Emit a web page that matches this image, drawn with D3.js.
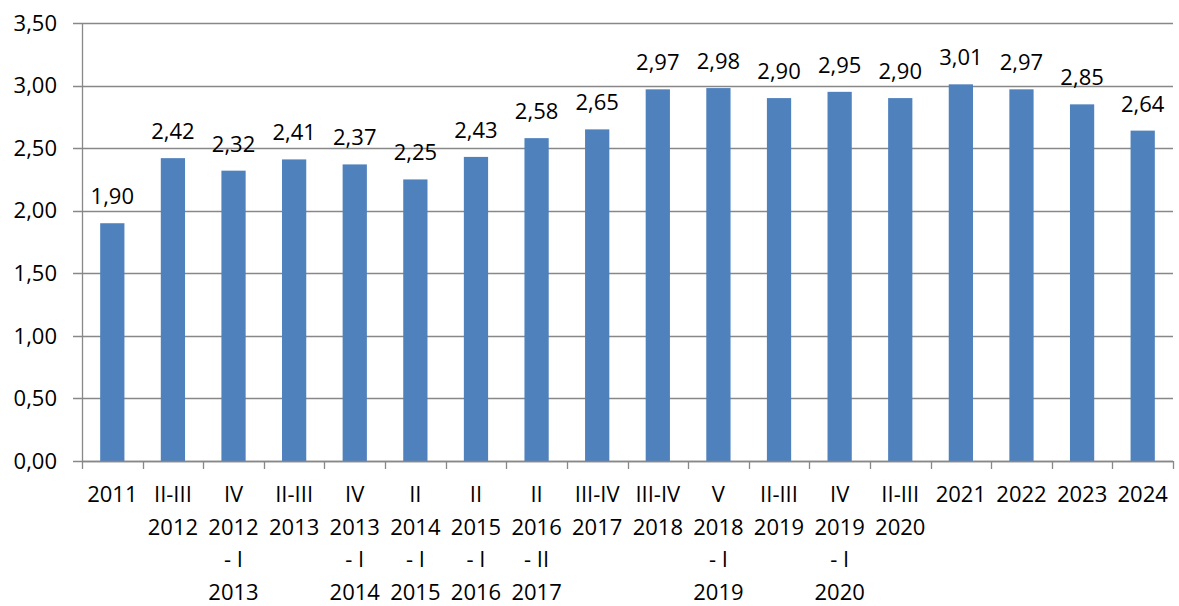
<!DOCTYPE html>
<html>
  <head>
    <meta charset="UTF-8" />
    <title>Chart</title>
    <script src="https://d3js.org/d3.v7.min.js"></script>
    <style>
      body { margin: 0; background: #fff; }
      svg text { font-family: "Open Sans", sans-serif; fill: #000; }
    </style>
  </head>
  <body>
    <svg width="1179" height="606"></svg>
    <script>
      // categories, lines separated by "|"
      var categories = [
        "2011",
        "II-III|2012",
        "IV|2012|- I|2013",
        "II-III|2013",
        "IV|2013|- I|2014",
        "II|2014|- I|2015",
        "II|2015|- I|2016",
        "II|2016|- II|2017",
        "III-IV|2017",
        "III-IV|2018",
        "V|2018|- I|2019",
        "II-III|2019",
        "IV|2019|- I|2020",
        "II-III|2020",
        "2021",
        "2022",
        "2023",
        "2024"
      ];
      var values = [1.90, 2.42, 2.32, 2.41, 2.37, 2.25, 2.43, 2.58, 2.65, 2.97, 2.98, 2.90, 2.95, 2.90, 3.01, 2.97, 2.85, 2.64];
      var yTicks = [0, 0.5, 1, 1.5, 2, 2.5, 3, 3.5];

      var svg = d3.select("svg");
      var fmt = function (v) { return d3.format(".2f")(v).replace(".", ","); };

      var x = d3.scaleBand().domain(d3.range(categories.length)).range([82, 1173]).paddingInner(0.6).paddingOuter(0.3);
      var band = d3.scaleBand().domain(d3.range(categories.length)).range([82, 1173]);
      var y = d3.scaleLinear().domain([0, 3.5]).range([461, 23]);

      // gridlines
      svg.append("g")
        .selectAll("line")
        .data(yTicks)
        .enter()
        .append("line")
        .attr("x1", 73)
        .attr("x2", 1173)
        .attr("y1", function (d) { return Math.round(y(d)) + 0.5; })
        .attr("y2", function (d) { return Math.round(y(d)) + 0.5; })
        .attr("stroke", "#888")
        .attr("stroke-width", 1.3);

      // y labels
      svg.append("g")
        .selectAll("text")
        .data(yTicks)
        .enter()
        .append("text")
        .attr("x", 57)
        .attr("y", function (d) { return y(d); })
        .attr("dy", "0.35em")
        .attr("text-anchor", "end")
        .attr("font-size", 22)
        .text(fmt);

      // bars
      svg.append("g")
        .selectAll("rect")
        .data(values)
        .enter()
        .append("rect")
        .attr("x", function (d, i) { return x(i); })
        .attr("width", x.bandwidth())
        .attr("y", function (d) { return y(d); })
        .attr("height", function (d) { return y(0) - y(d); })
        .attr("fill", "#4F81BD");

      // value labels
      svg.append("g")
        .selectAll("text")
        .data(values)
        .enter()
        .append("text")
        .attr("x", function (d, i) { return x(i) + x.bandwidth() / 2; })
        .attr("y", function (d) { return y(d) - 19; })
        .attr("text-anchor", "middle")
        .attr("font-size", 22)
        .text(fmt);

      // axes lines
      svg.append("line")
        .attr("x1", 82.5).attr("x2", 82.5)
        .attr("y1", 23).attr("y2", 461)
        .attr("stroke", "#888").attr("stroke-width", 1.3);
      svg.append("line")
        .attr("x1", 82).attr("x2", 1173)
        .attr("y1", 461.5).attr("y2", 461.5)
        .attr("stroke", "#888").attr("stroke-width", 1.3);

      // category ticks
      svg.append("g")
        .selectAll("line")
        .data(d3.range(categories.length + 1))
        .enter()
        .append("line")
        .attr("x1", function (i) { return Math.round(i < categories.length ? band(i) : band.range()[1]) + 0.5; })
        .attr("x2", function (i) { return Math.round(i < categories.length ? band(i) : band.range()[1]) + 0.5; })
        .attr("y1", 461)
        .attr("y2", 469)
        .attr("stroke", "#888")
        .attr("stroke-width", 1.3);

      // category labels
      var cat = svg.append("g")
        .selectAll("text")
        .data(categories)
        .enter()
        .append("text")
        .attr("text-anchor", "middle")
        .attr("font-size", 22)
        .attr("x", function (d, i) { return band(i) + band.bandwidth() / 2; });
      cat.selectAll("tspan")
        .data(function (d, i) {
          return d.split("|").map(function (s) { return { s: s, i: i }; });
        })
        .enter()
        .append("tspan")
        .attr("x", function (d) { return band(d.i) + band.bandwidth() / 2; })
        .attr("y", function (d, j) { return 502 + j * 32.5; })
        .text(function (d) { return d.s; });
    </script>
  </body>
</html>
